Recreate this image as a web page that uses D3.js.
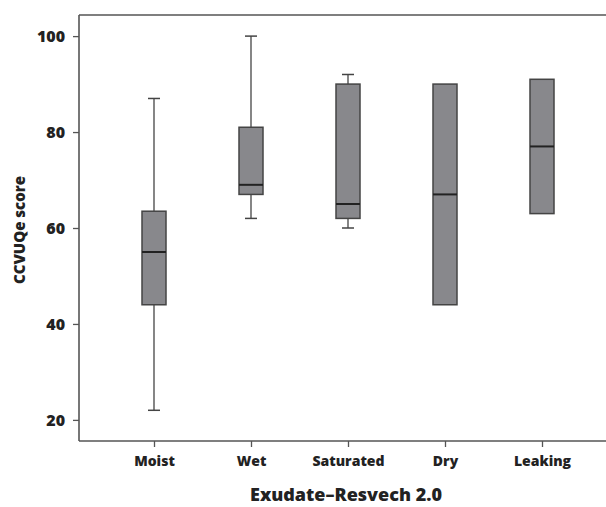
<!DOCTYPE html>
<html><head><meta charset="utf-8">
<script src="https://cdn.jsdelivr.net/npm/d3@7/dist/d3.min.js"></script>
<style>body{margin:0;background:#fff}svg{display:block}</style>
</head><body>
<svg id="c" width="606" height="507"></svg>
<script>
const categories = ["Moist","Wet","Saturated","Dry","Leaking"];
const whiskerLow = [22, 62, 60, 44, 63];
const q1 = [44, 67, 62, 44, 63];
const median = [55, 69, 65, 67, 77];
const q3 = [63.5, 81, 90, 90, 91];
const whiskerHigh = [87, 100, 92, 90, 91];
const yTicks = [20, 40, 60, 80, 100];

(function(){
const svg = d3.select("#c");
const mLeft = 79, mTop = 15, mBottom = 441, mRight = 618;
const font = "'Open Sans', sans-serif";
const fw = "800";

const x = d3.scalePoint().domain(categories).range([154, 542]);
const y = d3.scaleLinear().domain([15.6, 104.4]).range([mBottom, mTop]);

svg.append("line").attr("x1", mLeft).attr("x2", 606).attr("y1", mTop).attr("y2", mTop)
  .attr("stroke", "#555").attr("stroke-width", 1.6);

const xAxis = svg.append("g").attr("transform", `translate(0,${mBottom})`)
  .call(d3.axisBottom(x).tickSize(6).tickPadding(9));
xAxis.select(".domain").attr("d", `M${mLeft},0H${mRight}`);
const yAxis = svg.append("g").attr("transform", `translate(${mLeft},0)`)
  .call(d3.axisLeft(y).tickValues(yTicks).tickSize(6).tickPadding(8));
yAxis.select(".domain").attr("d", `M0,${mTop}V${mBottom}`);
[xAxis, yAxis].forEach(a => {
  a.selectAll(".domain").attr("stroke", "#555").attr("stroke-width", 1.6);
  a.selectAll(".tick line").attr("stroke", "#555").attr("stroke-width", 1.3);
  a.selectAll("text").attr("fill", "#222").style("font-family", font)
    .style("font-weight", fw);
});
xAxis.selectAll("text").style("font-size", "14px");
yAxis.selectAll("text").style("font-size", "16px");

const data = categories.map((c, i) => ({c, lo: whiskerLow[i], q1: q1[i], med: median[i], q3: q3[i], hi: whiskerHigh[i]}));
const bw = 24, cap = 12;
const g = svg.append("g");
data.forEach(d => {
  const cx = x(d.c);
  const stroke = "#444";
  if (d.hi > d.q3) {
    g.append("line").attr("x1", cx).attr("x2", cx).attr("y1", y(d.hi)).attr("y2", y(d.q3)).attr("stroke", stroke).attr("stroke-width", 1.3);
    g.append("line").attr("x1", cx - cap/2).attr("x2", cx + cap/2).attr("y1", y(d.hi)).attr("y2", y(d.hi)).attr("stroke", stroke).attr("stroke-width", 1.5);
  }
  if (d.lo < d.q1) {
    g.append("line").attr("x1", cx).attr("x2", cx).attr("y1", y(d.q1)).attr("y2", y(d.lo)).attr("stroke", stroke).attr("stroke-width", 1.3);
    g.append("line").attr("x1", cx - cap/2).attr("x2", cx + cap/2).attr("y1", y(d.lo)).attr("y2", y(d.lo)).attr("stroke", stroke).attr("stroke-width", 1.5);
  }
  g.append("rect").attr("x", cx - bw/2).attr("width", bw)
    .attr("y", y(d.q3)).attr("height", y(d.q1) - y(d.q3))
    .attr("fill", "#88888c").attr("stroke", stroke).attr("stroke-width", 1.5);
  g.append("line").attr("x1", cx - bw/2).attr("x2", cx + bw/2).attr("y1", y(d.med)).attr("y2", y(d.med))
    .attr("stroke", "#222").attr("stroke-width", 2);
});

svg.append("text").attr("x", 346).attr("y", 501).attr("text-anchor", "middle")
  .style("font-family", font).style("font-weight", fw).style("font-size", "18px").attr("fill", "#222")
  .text("Exudate–Resvech 2.0");
svg.append("text").attr("transform", "translate(25,230) rotate(-90)").attr("text-anchor", "middle")
  .style("font-family", font).style("font-weight", fw).style("font-size", "15px").attr("fill", "#222")
  .text("CCVUQe score");
})();
</script>
</body></html>
